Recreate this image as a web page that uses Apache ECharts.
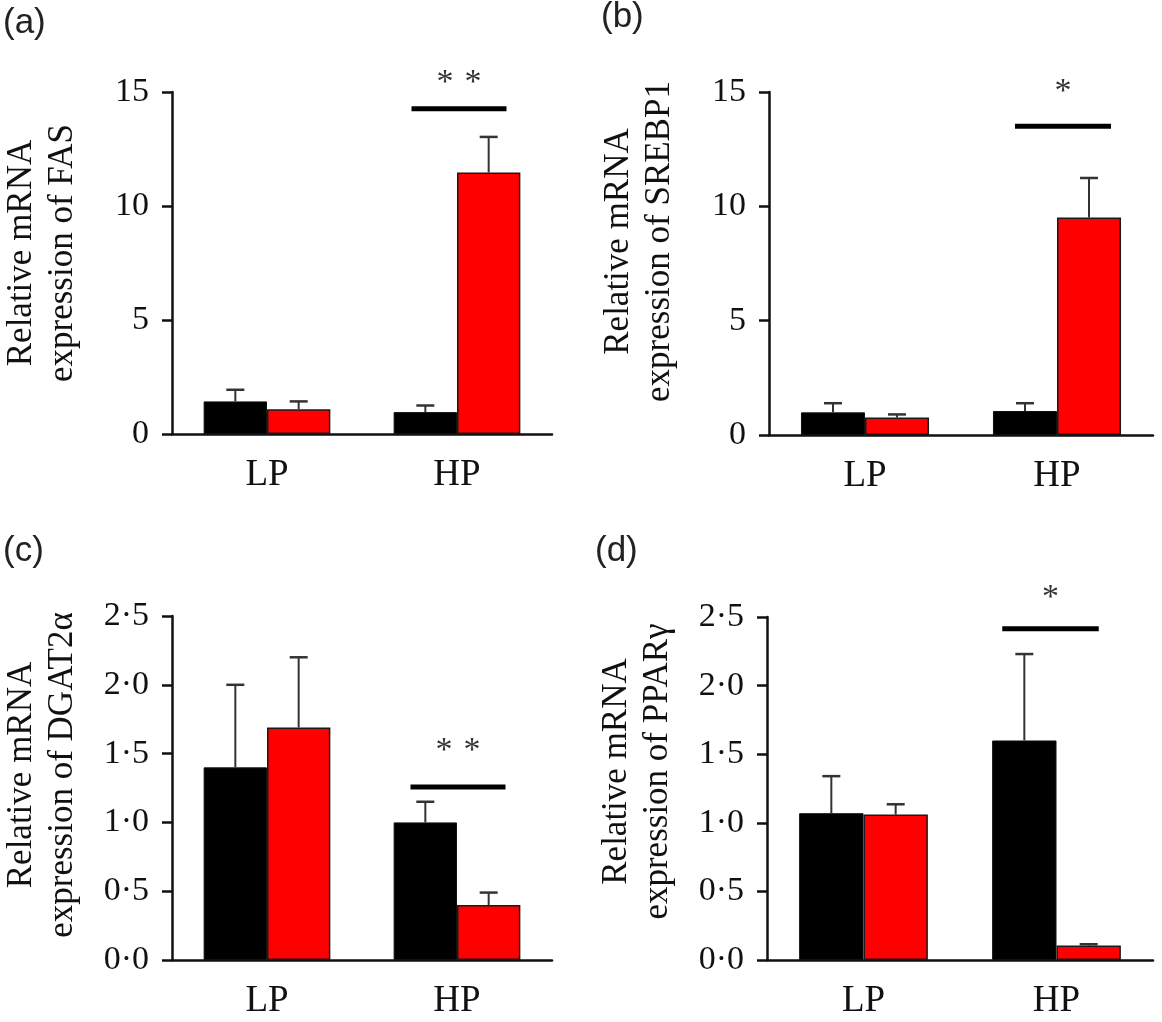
<!DOCTYPE html>
<html>
<head>
<meta charset="utf-8">
<script src="https://cdn.jsdelivr.net/npm/echarts@6/dist/echarts.min.js"></script>
<style>
html,body{margin:0;padding:0;background:#fff;}
#chart{width:1162px;height:1022px;}
</style>
</head>
<body>
<div id="chart"></div>
<script>
// ---------- data ----------
const categories = ['LP', 'HP'];

// (a) FAS
const fasBlack = [1.43, 0.96];
const fasRed = [1.09, 11.47];
const fasBlackSem = [0.51, 0.29];
const fasRedSem = [0.34, 1.56];
const fasSig = [14.27, 15.66, 2];   // bar level, star level, number of stars

// (b) SREBP1
const srebpBlack = [0.99, 1.05];
const srebpRed = [0.77, 9.51];
const srebpBlackSem = [0.40, 0.34];
const srebpRedSem = [0.13, 1.73];
const srebpSig = [13.50, 15.25, 1];

// (c) DGAT2α
const dgatBlack = [1.40, 1.00];
const dgatRed = [1.69, 0.40];
const dgatBlackSem = [0.60, 0.15];
const dgatRedSem = [0.51, 0.09];
const dgatSig = [1.257, 1.56, 2];

// (d) PPARγ
const pparBlack = [1.07, 1.60];
const pparRed = [1.06, 0.105];
const pparBlackSem = [0.27, 0.63];
const pparRedSem = [0.075, 0.01];
const pparSig = [2.415, 2.68, 1];

const yTicksLarge = { max: 15, interval: 5 };
const yTicksSmall = { max: 2.5, interval: 0.5 };

// ---------- layout (positions / styles only) ----------
const panels = [
  { tag: '(a)', tagPos: [3, 6], grid: { left: 168, top: 92, width: 384, height: 342 },
    ax: yTicksLarge, dec: 0, title: 'Relative mRNA\nexpression of FAS', titleShift: 10, nameGap: 89, sigShift: 2,
    black: fasBlack, red: fasRed, blackSem: fasBlackSem, redSem: fasRedSem, sig: fasSig },
  { tag: '(b)', tagPos: [601, 0], grid: { left: 769, top: 92, width: 384, height: 343 },
    ax: yTicksLarge, dec: 0, title: 'Relative mRNA\nexpression of SREBP1', titleShift: 22, nameGap: 89, sigShift: 6,
    black: srebpBlack, red: srebpRed, blackSem: srebpBlackSem, redSem: srebpRedSem, sig: srebpSig },
  { tag: '(c)', tagPos: [3, 534], grid: { left: 166, top: 616, width: 386, height: 344 },
    ax: yTicksSmall, dec: 1, title: 'Relative mRNA\nexpression of DGAT2\u03b1', titleShift: 13, nameGap: 89, sigShift: 1,
    black: dgatBlack, red: dgatRed, blackSem: dgatBlackSem, redSem: dgatRedSem, sig: dgatSig },
  { tag: '(d)', tagPos: [595, 534], grid: { left: 767, top: 617, width: 386, height: 343 },
    ax: yTicksSmall, dec: 1, title: 'Relative mRNA\nexpression of PPAR\u03b3', titleShift: 17, nameGap: 89, sigShift: -6,
    black: pparBlack, red: pparRed, blackSem: pparBlackSem, redSem: pparRedSem, sig: pparSig }
];

const INK = '#111';
const SERIF = 'Liberation Serif';

const grids = [], xAxes = [], yAxes = [], series = [], graphics = [];

panels.forEach((p, i) => {
  grids.push(Object.assign({ containLabel: false }, p.grid));
  xAxes.push({
    type: 'category', gridIndex: i, data: categories, boundaryGap: true,
    axisLine: { lineStyle: { color: INK, width: 2.5 } },
    axisTick: { alignWithLabel: true, length: 10, lineStyle: { color: INK, width: 2.5 } },
    axisLabel: { color: INK, fontFamily: SERIF, fontSize: 37, margin: 23 },
    splitLine: { show: false }
  });
  yAxes.push({
    type: 'value', gridIndex: i, min: 0, max: p.ax.max, interval: p.ax.interval,
    axisLine: { show: true, lineStyle: { color: INK, width: 2.5 } },
    axisTick: { show: true, length: 10, lineStyle: { color: INK, width: 2.5 } },
    axisLabel: {
      color: INK, fontFamily: SERIF, fontSize: 34, margin: 23,
      formatter: v => p.dec ? v.toFixed(1).replace('.', '\u00b7') : String(v)
    },
    splitLine: { show: false },
    name: p.title, nameLocation: 'middle', nameGap: p.nameGap, nameRotate: 90,
    nameTextStyle: { color: INK, fontFamily: SERIF, fontSize: 35, lineHeight: 41, padding: [0, 0, 0, p.titleShift * 2] }
  });

  const barCommon = { type: 'bar', xAxisIndex: i, yAxisIndex: i, barGap: '0%', barCategoryGap: '33.3%', silent: true };
  series.push(Object.assign({}, barCommon, {
    name: 'black', data: p.black,
    itemStyle: { color: '#000000', borderColor: '#111', borderWidth: 1 }
  }));
  series.push(Object.assign({}, barCommon, {
    name: 'red', data: p.red,
    itemStyle: { color: '#ff0000', borderColor: '#1a1a1a', borderWidth: 1.5 }
  }));

  // error bars (upper only)
  const errData = [];
  p.black.forEach((v, k) => errData.push([k, v, v + p.blackSem[k], -1]));
  p.red.forEach((v, k) => errData.push([k, v, v + p.redSem[k], 1]));
  series.push({
    type: 'custom', xAxisIndex: i, yAxisIndex: i, data: errData, z: 5, silent: true,
    renderItem: (params, api) => {
      const c = api.value(0);
      const base = api.coord([c, api.value(1)]);
      const top = api.coord([c, api.value(2)]);
      const catW = api.size([1, 0])[0];
      const x = base[0] + api.value(3) * catW / 6;
      const half = 9;
      return {
        type: 'group',
        children: [
          { type: 'line', shape: { x1: x, y1: base[1], x2: x, y2: top[1] }, style: { stroke: '#333', lineWidth: 2 } },
          { type: 'line', shape: { x1: x - half, y1: top[1], x2: x + half, y2: top[1] }, style: { stroke: '#333', lineWidth: 2.5 } }
        ]
      };
    }
  });

  // significance bar and stars
  series.push({
    type: 'custom', xAxisIndex: i, yAxisIndex: i, data: [[1, p.sig[0], p.sig[1], p.sig[2]]], z: 6, silent: true, clip: false,
    renderItem: (params, api) => {
      const lineP = api.coord([api.value(0), api.value(1)]);
      const starP = api.coord([api.value(0), api.value(2)]);
      const catW = api.size([1, 0])[0];
      const cx = lineP[0] + p.sigShift;
      const half = catW * 0.25;
      const n = api.value(3);
      const children = [
        { type: 'line', shape: { x1: cx - half, y1: lineP[1], x2: cx + half, y2: lineP[1] }, style: { stroke: '#000', lineWidth: 5 } }
      ];
      const gap = 28;
      for (let s = 0; s < n; s++) {
        const sx = cx + (s - (n - 1) / 2) * gap;
        children.push({
          type: 'text', x: sx, y: starP[1] + 6,
          style: { text: '*', fill: '#333', fontFamily: SERIF, fontSize: 34, align: 'center', verticalAlign: 'middle', textAlign: 'center', textVerticalAlign: 'middle' }
        });
      }
      return { type: 'group', children };
    }
  });

  graphics.push({
    type: 'text', left: p.tagPos[0], top: p.tagPos[1],
    style: { text: p.tag, fill: '#222', fontFamily: 'Liberation Sans', fontSize: 35 }
  });
});

const chart = echarts.init(document.getElementById('chart'), null, { renderer: 'canvas' });
chart.setOption({
  animation: false,
  backgroundColor: '#ffffff',
  grid: grids,
  xAxis: xAxes,
  yAxis: yAxes,
  series: series,
  graphic: graphics
});
</script>
</body>
</html>
